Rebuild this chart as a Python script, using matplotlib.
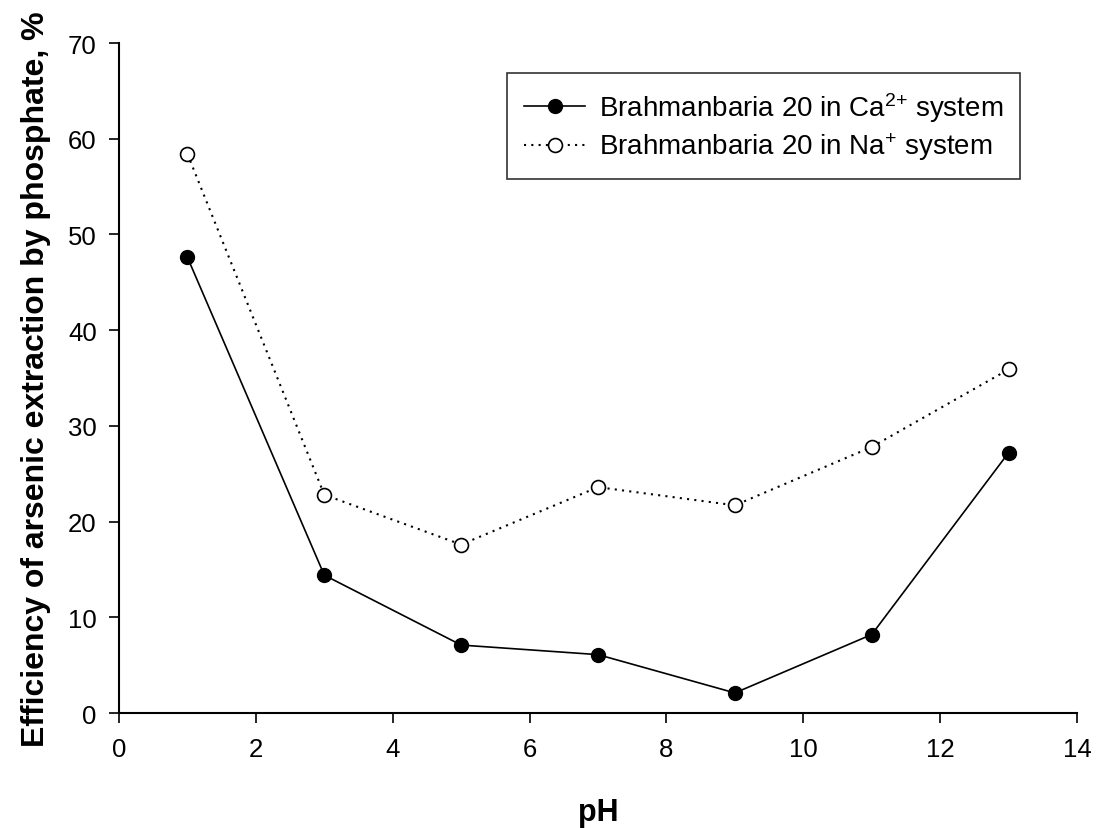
import matplotlib
matplotlib.use("Agg")
import matplotlib.pyplot as plt

ph = [1, 3, 5, 7, 9, 11, 13]
ca_values = [47.6, 14.4, 7.1, 6.1, 2.1, 8.2, 27.2]
na_values = [58.4, 22.8, 17.6, 23.6, 21.7, 27.8, 35.9]
xticks = [0, 2, 4, 6, 8, 10, 12, 14]
yticks = [0, 10, 20, 30, 40, 50, 60, 70]

plt.rcParams['font.family'] = ['Liberation Sans', 'DejaVu Sans']
plt.rcParams['mathtext.fontset'] = 'custom'
plt.rcParams['mathtext.rm'] = 'Liberation Sans'
plt.rcParams['mathtext.it'] = 'Liberation Sans'
plt.rcParams['mathtext.bf'] = 'Liberation Sans:bold'

fig = plt.figure(figsize=(10.97, 8.29), dpi=100)
ax = fig.add_axes([0.1085, 0.1387, 0.9818 - 0.1085, 0.9469 - 0.1387])

ax.plot(ph, ca_values, color='black', linestyle='-', linewidth=1.2, marker='o',
        markersize=10, markerfacecolor='black', markeredgecolor='black',
        label=r'Brahmanbaria 20 in Ca$^{2{+}}$ system')
ax.plot(ph, na_values, color='black', linestyle=(0, (1, 2.5)), linewidth=1.5, marker='o',
        markersize=10, markerfacecolor='white', markeredgecolor='black', markeredgewidth=1.2,
        label=r'Brahmanbaria 20 in Na$^{{+}}$ system')

ax.set_xlim(0, 14)
ax.set_ylim(0, 70)
ax.set_xticks(xticks)
ax.set_yticks(yticks)
ax.tick_params(direction='out', length=7, width=1.2, labelsize=18.5)
ax.tick_params(axis='x', pad=10)
ax.tick_params(axis='y', pad=9)
for s in ['top', 'right']:
    ax.spines[s].set_visible(False)
for s in ['left', 'bottom']:
    ax.spines[s].set_linewidth(1.5)

ax.set_xlabel('pH', fontsize=22, fontweight='bold', labelpad=26)
ax.set_ylabel('Efficiency of arsenic extraction by phosphate, %', fontsize=23,
              fontweight='bold', labelpad=12)

leg = ax.legend(loc='upper right', bbox_to_anchor=(0.9405, 0.955), fontsize=20,
                frameon=True, fancybox=False, edgecolor='black', handlelength=2.2,
                borderpad=0.6, labelspacing=0.25, handletextpad=0.5, borderaxespad=0)
leg.get_frame().set_linewidth(1.2)

fig.savefig('out.png', dpi=100)
